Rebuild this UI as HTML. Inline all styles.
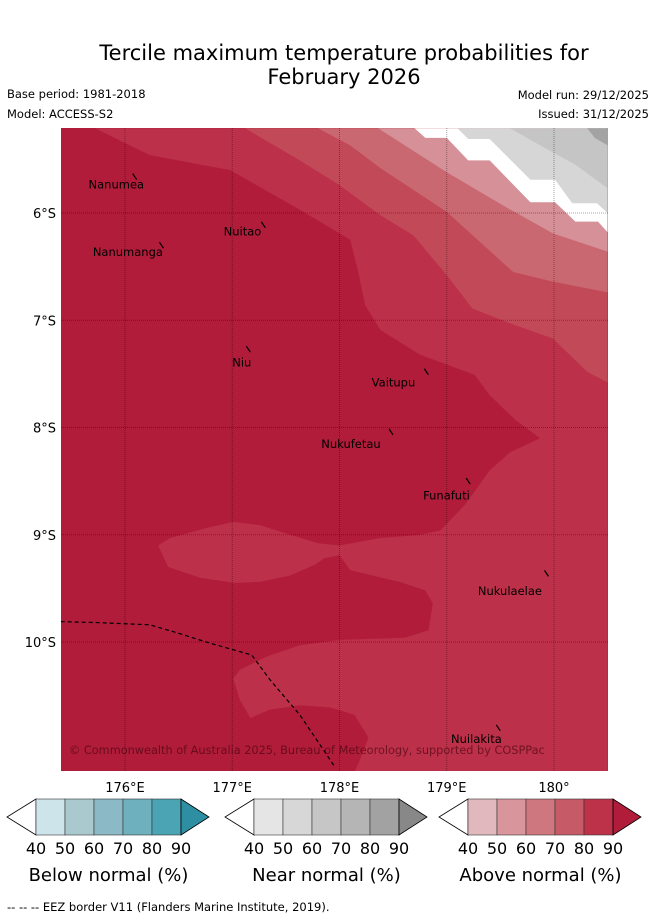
<!DOCTYPE html>
<html><head><meta charset="utf-8">
<style>
body{margin:0;background:#fff;width:655px;height:919px;overflow:hidden;font-family:"Liberation Sans","DejaVu Sans",sans-serif}
svg{position:absolute;left:0;top:0}
</style></head>
<body>
<svg id="chart" width="655" height="919" xmlns="http://www.w3.org/2000/svg" style="font-family:'DejaVu Sans','Liberation Sans',sans-serif">
<text x="344" y="60" text-anchor="middle" font-size="21">Tercile maximum temperature probabilities for</text>
<text x="344" y="84" text-anchor="middle" font-size="21">February 2026</text>
<text x="7" y="98" font-size="11.5">Base period: 1981-2018</text>
<text x="7" y="118" font-size="11.5">Model: ACCESS-S2</text>
<text x="649" y="99" font-size="11.5" text-anchor="end">Model run: 29/12/2025</text>
<text x="649" y="118" font-size="11.5" text-anchor="end">Issued: 31/12/2025</text>
<defs><clipPath id="mapclip"><rect x="61" y="128" width="547" height="643"/></clipPath></defs>
<g id="map" clip-path="url(#mapclip)"></g>
<g id="axes"></g>
<g id="bars"></g>
<text x="7" y="911" font-size="11.5">--  --  -- EEZ border V11 (Flanders Marine Institute, 2019).</text>
</svg>
<script>
// Contour boundaries (lon °E, lat °S)
const band80Lon=[175.72,176.23,176.98,177.63,178.10,178.17,178.24,178.38,178.75,179.26,179.40,179.64,179.87,179.59,179.40,179.17,178.94,178.75,178.38,178.00,177.80,177.54,177.26,177.01,176.75,176.42,176.31,176.40,176.70,177.03,177.26,177.54,177.77,177.86,178.00,178.10,178.56,178.80,178.87,178.83,178.61,178.00,177.63,177.31,177.07,177.01,177.07,177.17,177.35,177.63,177.91,178.14,178.27,178.19,178.14,180.5,180.5];
const band80Lat=[5.21,5.46,5.60,5.97,6.25,6.53,6.86,7.09,7.32,7.51,7.70,7.93,8.10,8.23,8.40,8.72,8.96,9.00,9.03,9.10,9.08,9.00,8.91,8.88,8.94,9.03,9.10,9.30,9.40,9.45,9.44,9.38,9.28,9.22,9.19,9.33,9.44,9.52,9.64,9.89,9.96,9.98,10.03,10.14,10.26,10.34,10.54,10.71,10.63,10.59,10.61,10.68,10.89,11.10,11.21,11.21,5.21];
const band70Lon=[177.12,177.63,178.00,178.38,178.69,179.00,179.24,179.62,179.99,180.31,180.50,180.5];
const band70Lat=[5.21,5.51,5.74,6.02,6.21,6.58,6.89,7.04,7.17,7.48,7.58,5.21];
const band60Lon=[177.80,178.10,178.38,179.00,179.31,179.62,179.99,180.50,180.5];
const band60Lat=[5.21,5.37,5.58,5.99,6.27,6.55,6.64,6.74,5.21];
const band50Lon=[178.36,179.00,179.56,179.99,180.50,180.5];
const band50Lat=[5.21,5.62,5.95,6.19,6.36,5.21];
const whiteLon=[178.70,178.80,179.00,179.20,179.40,179.78,180.01,180.20,180.41,180.50,180.5];
const whiteLat=[5.21,5.30,5.30,5.51,5.51,5.90,5.90,6.08,6.08,6.18,5.21];
const near50Lon=[179.10,179.20,179.40,179.78,180.01,180.17,180.40,180.50,180.5];
const near50Lat=[5.21,5.31,5.31,5.69,5.69,5.91,5.91,6.00,5.21];
const near60Lon=[179.59,179.87,180.20,180.50,180.5];
const near60Lat=[5.21,5.37,5.55,5.77,5.21];
const near80Lon=[180.31,180.38,180.50,180.5];
const near80Lat=[5.21,5.30,5.37,5.21];
const eezLon=[175.40,175.77,176.23,176.47,176.79,177.18,177.35,177.63,177.82,177.96];
const eezLat=[9.81,9.82,9.84,9.91,10.01,10.12,10.35,10.68,10.96,11.17];
const lonTicks=[176,177,178,179,180];
const lonLabels=["176°E","177°E","178°E","179°E","180°"];
const latTicks=[6,7,8,9,10];
const latLabels=["6°S","7°S","8°S","9°S","10°S"];
const islandNames=["Nanumea","Nuitao","Nanumanga","Niu","Vaitupu","Nukufetau","Funafuti","Nukulaelae","Nuilakita"];
const islandLon=[176.09,177.29,176.34,177.15,178.81,178.48,179.20,179.93,179.48];
const islandLat=[5.66,6.11,6.30,7.27,7.48,8.04,8.50,9.36,10.80];
const labelLon=[175.66,176.92,175.70,177.00,178.30,177.83,178.78,179.29,179.04];
const labelLat=[5.77,6.21,6.40,7.43,7.62,8.19,8.67,9.56,10.94];

const NS='http://www.w3.org/2000/svg';
function xs(lon){return 125+(lon-176)*107.25;}
function ys(lat){return 213+(lat-6)*107.25;}
function mk(tag,attrs,parent){const e=document.createElementNS(NS,tag);for(const k in attrs)e.setAttribute(k,attrs[k]);parent.appendChild(e);return e;}
const map=document.getElementById('map');
const axes=document.getElementById('axes');
const bars=document.getElementById('bars');
function pts(lons,lats){return lons.map((l,i)=>xs(l).toFixed(1)+','+ys(lats[i]).toFixed(1)).join(' ');}

let bg=mk('rect',{x:61,y:128,width:547,height:643,fill:'#b01c3a'},map);


const layers=[[band80Lon,band80Lat,'#bc3049','above-80-region'],[band70Lon,band70Lat,'#c24a58','above-70-region'],[band60Lon,band60Lat,'#ca6872','above-60-region'],[band50Lon,band50Lat,'#d69098','above-50-region'],[whiteLon,whiteLat,'#ffffff','no-signal-region'],[near50Lon,near50Lat,'#d6d6d6','near-50-region'],[near60Lon,near60Lat,'#c5c5c5','near-60-region'],[near80Lon,near80Lat,'#a3a3a3','near-80-region']];
layers.forEach(L=>{
  const p=mk('polygon',{points:pts(L[0],L[1]),fill:L[2]},map);
  
  
});
lonTicks.forEach((t,i)=>{
  const l=mk('line',{x1:xs(t),x2:xs(t),y1:128,y2:771,stroke:'rgba(0,0,0,0.35)','stroke-width':1,'stroke-dasharray':'1,1'},map);
  
  
  const tx=mk('text',{x:xs(t),y:792,'font-size':13,'text-anchor':'middle'},axes);
  tx.textContent=lonLabels[i];
  
  
});
latTicks.forEach((t,i)=>{
  const l=mk('line',{x1:61,x2:608,y1:ys(t),y2:ys(t),stroke:'rgba(0,0,0,0.35)','stroke-width':1,'stroke-dasharray':'1,1'},map);
  
  
  const tx=mk('text',{x:56,y:ys(t)+5,'font-size':13,'text-anchor':'end'},axes);
  tx.textContent=latLabels[i];
  
  
});
const eez=mk('polyline',{points:pts(eezLon,eezLat),fill:'none',stroke:'#000','stroke-width':1.2,'stroke-dasharray':'4,3'},map);


islandNames.forEach((n,i)=>{
  const m=mk('line',{x1:xs(islandLon[i])-2,y1:ys(islandLat[i])-3,x2:xs(islandLon[i])+2,y2:ys(islandLat[i])+3,stroke:'#000','stroke-width':1.2},map);
  
  
  const t=mk('text',{x:xs(labelLon[i]),y:ys(labelLat[i]),'font-size':11.5,fill:'#000'},map);
  t.textContent=n;
  
  
});
const cp=mk('text',{x:69,y:754,'font-size':11.3,fill:'rgba(60,0,10,0.6)'},map);
cp.textContent='© Commonwealth of Australia 2025, Bureau of Meteorology, supported by COSPPac';



const barTitles=["Below normal (%)","Near normal (%)","Above normal (%)"];
const barStarts=[7,225,439];
const barColors=[["#cde4ea","#a9c9cf","#8bb9c6","#6fb0bf","#4aa4b4","#2e8fa3"],["#e5e5e5","#d7d7d7","#c6c6c6","#b5b5b5","#a2a2a2","#888888"],["#e2b8bf","#d9959c","#cf777e","#c65b67","#bd3149","#b01c3a"]];
const barTicks=["40","50","60","70","80","90"];
barStarts.forEach((x0,b)=>{
  const g=mk('g',{},bars);
  
  
  const y0=799,h=36,w=29,left=x0+29;
  mk('polygon',{points:`${left},${y0} ${x0},${y0+h/2} ${left},${y0+h}`,fill:'#fff',stroke:'#000','stroke-width':0.8},g);
  for(let k=0;k<5;k++){
    mk('rect',{x:left+k*w,y:y0,width:w,height:h,fill:barColors[b][k],stroke:'#333','stroke-width':0.6},g);
  }
  const r=left+5*w;
  mk('polygon',{points:`${r},${y0} ${r+28},${y0+h/2} ${r},${y0+h}`,fill:barColors[b][5],stroke:'#000','stroke-width':0.8},g);
  barTicks.forEach((t,k)=>{
    const tx=mk('text',{x:left+k*w,y:854,'font-size':16,'text-anchor':'middle'},g);
    tx.textContent=t;
    
    
  });
  const tt=mk('text',{x:left+2.5*w,y:881,'font-size':18,'text-anchor':'middle'},g);
  tt.textContent=barTitles[b];
  
  
});
</script>
</body></html>
